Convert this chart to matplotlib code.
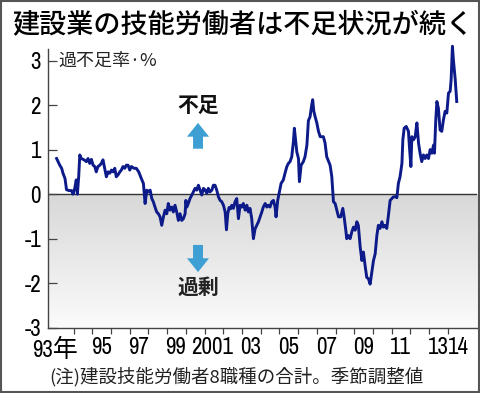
import numpy as np
import matplotlib
matplotlib.use('Agg')
import matplotlib.pyplot as plt
from matplotlib import font_manager
from matplotlib.patches import Rectangle, FancyArrow
from matplotlib.colors import LinearSegmentedColormap

# 過不足率 (%), 建設技能労働者8職種, 季節調整値
years = [1993.09, 1993.26, 1993.36, 1993.43, 1993.54, 1993.62, 1993.75, 1993.89, 1993.97,
         1994.06, 1994.14, 1994.20, 1994.27, 1994.33, 1994.41, 1994.56, 1994.68, 1994.77,
         1994.86, 1994.95, 1995.04, 1995.13, 1995.21, 1995.30, 1995.40, 1995.48, 1995.57,
         1995.66, 1995.75, 1995.84, 1995.93, 1996.02, 1996.11, 1996.20, 1996.28, 1996.37,
         1996.47, 1996.55, 1996.64, 1996.73, 1996.82, 1996.91, 1997.00, 1997.09, 1997.23,
         1997.35, 1997.48, 1997.62, 1997.73, 1997.82, 1997.91, 1997.99, 1998.09, 1998.18,
         1998.26, 1998.35, 1998.44, 1998.53, 1998.62, 1998.71, 1998.80, 1998.89, 1998.98,
         1999.06, 1999.15, 1999.25, 1999.33, 1999.42, 1999.51, 1999.60, 1999.69, 1999.78,
         1999.87, 1999.96, 2000.00, 2000.05, 2000.13, 2000.22, 2000.32, 2000.40, 2000.49,
         2000.58, 2000.67, 2000.76, 2000.85, 2000.94, 2001.03, 2001.12, 2001.20, 2001.29,
         2001.39, 2001.47, 2001.56, 2001.65, 2001.74, 2001.83, 2001.92, 2002.01, 2002.10,
         2002.17, 2002.24, 2002.31, 2002.39, 2002.45, 2002.54, 2002.63, 2002.72, 2002.81,
         2002.90, 2002.99, 2003.07, 2003.17, 2003.26, 2003.34, 2003.43, 2003.52, 2003.61,
         2003.70, 2003.79, 2003.88, 2003.97, 2004.06, 2004.14, 2004.24, 2004.33, 2004.41,
         2004.50, 2004.59, 2004.68, 2004.77, 2004.82, 2004.91, 2005.00, 2005.09, 2005.21,
         2005.30, 2005.40, 2005.48, 2005.57, 2005.66, 2005.75, 2005.80, 2005.88, 2005.93,
         2006.02, 2006.07, 2006.16, 2006.28, 2006.37, 2006.47, 2006.55, 2006.64, 2006.73,
         2006.78, 2006.84, 2006.91, 2007.00, 2007.09, 2007.18, 2007.35, 2007.44, 2007.53,
         2007.71, 2007.80, 2007.89, 2007.98, 2008.07, 2008.16, 2008.28, 2008.39, 2008.46,
         2008.55, 2008.60, 2008.69, 2008.78, 2008.87, 2008.96, 2009.05, 2009.14, 2009.22,
         2009.32, 2009.41, 2009.49, 2009.58, 2009.67, 2009.76, 2009.85, 2009.94, 2010.03,
         2010.12, 2010.21, 2010.29, 2010.38, 2010.48, 2010.56, 2010.65, 2010.74, 2010.83,
         2010.92, 2011.01, 2011.10, 2011.19, 2011.28, 2011.36, 2011.45, 2011.55, 2011.60,
         2011.67, 2011.78, 2011.90, 2011.95, 2012.03, 2012.08, 2012.17, 2012.26, 2012.35,
         2012.44, 2012.52, 2012.61, 2012.70, 2012.79, 2012.88, 2012.97, 2013.06, 2013.15,
         2013.24, 2013.29, 2013.36, 2013.42, 2013.50, 2013.59, 2013.68, 2013.77, 2013.86,
         2013.95, 2014.04, 2014.13, 2014.18, 2014.25, 2014.30, 2014.40, 2014.48]
rate = [0.80, 0.65, 0.58, 0.47, 0.35, 0.10, 0.08, 0.08, 0.00,
        0.13, 0.32, 0.00, 0.39, 0.88, 0.80, 0.77, 0.73, 0.80,
        0.69, 0.78, 0.65, 0.62, 0.50, 0.62, 0.65, 0.69, 0.77,
        0.58, 0.39, 0.50, 0.47, 0.54, 0.50, 0.58, 0.39, 0.43,
        0.50, 0.54, 0.62, 0.58, 0.65, 0.65, 0.54, 0.62, 0.58,
        0.58, 0.50, 0.35, 0.24, -0.21, 0.09, 0.05, 0.09, -0.10,
        -0.17, -0.29, -0.40, -0.44, -0.51, -0.70, -0.51, -0.36, -0.44,
        -0.21, -0.36, -0.29, -0.40, -0.25, -0.40, -0.59, -0.44, -0.59,
        -0.55, -0.44, -0.14, -0.29, -0.21, -0.10, -0.02, 0.05, 0.13,
        0.09, 0.20, 0.09, -0.02, 0.13, 0.09, 0.02, 0.13, 0.05,
        0.09, 0.20, 0.20, 0.09, -0.06, -0.14, -0.17, -0.25, -0.40,
        -0.80, -0.44, -0.30, -0.33, -0.25, -0.32, -0.17, -0.10, -0.55,
        -0.25, -0.29, -0.21, -0.36, -0.25, -0.40, -0.32, -0.55, -1.00,
        -0.78, -0.70, -0.62, -0.51, -0.40, -0.29, -0.21, -0.29, -0.25,
        -0.29, -0.17, -0.14, -0.29, -0.51, -0.14, 0.05, 0.24, 0.32,
        0.47, 0.62, 0.69, 0.73, 0.84, 1.18, 1.48, 1.14, 0.95,
        0.80, 0.28, 0.65, 0.73, 0.84, 1.10, 1.65, 1.74, 2.01,
        2.12, 1.86, 1.74, 1.60, 1.41, 1.29, 1.29, 1.15, 0.84,
        0.65, 0.40, -0.17, -0.21, -0.36, -0.51, -0.51, -0.32, -0.51,
        -0.81, -1.00, -0.93, -1.00, -0.85, -0.74, -0.81, -0.62, -0.70,
        -1.19, -1.49, -1.30, -1.60, -1.87, -1.90, -2.02, -1.75, -1.49,
        -1.34, -0.93, -0.70, -0.77, -0.62, -0.74, -0.70, -0.77, -0.47,
        -0.14, -0.10, -0.06, -0.06, -0.08, 0.24, 0.39, 0.69, 1.22,
        1.48, 1.52, 1.41, 1.07, 0.62, 1.29, 1.22, 1.29, 1.60,
        1.14, 0.92, 0.73, 0.88, 0.80, 0.88, 0.80, 1.00, 0.92,
        1.10, 0.92, 1.67, 2.08, 1.93, 1.44, 1.41, 1.67, 1.86,
        1.82, 2.27, 2.31, 2.57, 3.32, 3.02, 2.57, 2.08]

year_ticks = list(range(1994, 2015))
label_pos = [1993.0, 1995.47, 1997.45, 1999.45, 2001.42, 2003.45, 2005.47,
             2007.5, 2009.5, 2011.47, 2013.5, 2014.55]
label_txt = ['93年', '95', '97', '99', '2001', '03', '05', '07', '09', '11', '13', '14']
y_ticks = [-3, -2, -1, 0, 1, 2, 3]

# pick a narrow face for the numbers if one is installed
names = {f.name for f in font_manager.fontManager.ttflist}
narrow = None
for cand in ['Liberation Sans Narrow', 'Arial Narrow', 'Pragati Narrow', 'Archivo Narrow',
             'PT Sans Narrow', 'Roboto Condensed', 'Encode Sans Condensed',
             'Fira Sans Condensed', 'IBM Plex Sans Condensed', 'Open Sans Condensed']:
    if cand in names:
        narrow = cand
        break
if narrow is None:
    for n in sorted(names):
        if 'Narrow' in n or 'Condensed' in n:
            narrow = n
            break
if narrow is None:
    narrow = 'Liberation Sans'
num = [narrow, 'Noto Sans CJK JP']
jp = ['Noto Sans CJK JP', 'DejaVu Sans']
plt.rcParams['font.family'] = jp

fig = plt.figure(figsize=(4.8, 3.93), dpi=100)
ax = fig.add_axes([0.1, 0.166, 0.894, 0.709])

x0, x1 = 1992.63, 2015.57
cmap = LinearSegmentedColormap.from_list('g', ['#d8d8d8', '#fbfbfb'])
grad = np.linspace(0, 1, 200).reshape(-1, 1)
ax.imshow(grad, extent=[x0, x1, 0, -3], cmap=cmap, aspect='auto', zorder=0, origin='lower')
ax.set_xlim(x0, x1)
ax.set_ylim(-3, 3.256)
ax.axhline(0, color='#333333', lw=1.0, zorder=1)

ax.plot(years, rate, color='#0c1a8a', lw=2.1, zorder=3, clip_on=False, solid_joinstyle='round')

for s in ['top', 'right']:
    ax.spines[s].set_visible(False)
for s in ['left', 'bottom']:
    ax.spines[s].set_color('#444444')
    ax.spines[s].set_linewidth(1.0)

ax.set_yticks(y_ticks)
ax.set_yticklabels([str(v) for v in y_ticks], family=num, fontsize=18)
ax.tick_params(axis='y', direction='in', length=6.5, width=0.9, color='#444444', pad=5)

ax.set_xticks(year_ticks)
ax.set_xticklabels([])
ax.tick_params(axis='x', which='major', direction='out', length=4.5, width=0.9, color='#444444')
ax.set_xticks(label_pos, minor=True)
ax.set_xticklabels(label_txt, minor=True, family=num, fontsize=18)
ax.tick_params(axis='x', which='minor', length=0, pad=7)

ax.text(1993.2, 3.0, '過不足率·%', fontsize=13, va='center', ha='left', color='#222222')

# arrows
arrow_x = 2000.65
ax.add_patch(FancyArrow(arrow_x, 1.02, 0, 0.58, width=0.53, head_width=1.18, head_length=0.31,
                        length_includes_head=True, color='#3d9fd3', lw=0, zorder=2))
ax.add_patch(FancyArrow(arrow_x, -1.14, 0, -0.61, width=0.53, head_width=1.18, head_length=0.31,
                        length_includes_head=True, color='#3d9fd3', lw=0, zorder=2))
ax.text(arrow_x, 2.0, '不足', fontsize=15, ha='center', va='center', fontweight='bold', color='#111111')
ax.text(arrow_x, -2.1, '過剰', fontsize=15, ha='center', va='center', fontweight='bold', color='#222222')

fig.text(0.025, 0.938, '建設業の技能労働者は不足状況が続く', fontsize=19.5, va='center', ha='left',
         fontweight='medium')
fig.text(0.103, 0.041, '(注)建設技能労働者8職種の合計。季節調整値', fontsize=13.3, va='center', ha='left',
         color='#222222')

fig.add_artist(Rectangle((0.002, 0.003), 0.995, 0.994, transform=fig.transFigure, fill=False,
                         edgecolor='#555555', lw=1.5))

fig.savefig('out.png', dpi=100)
